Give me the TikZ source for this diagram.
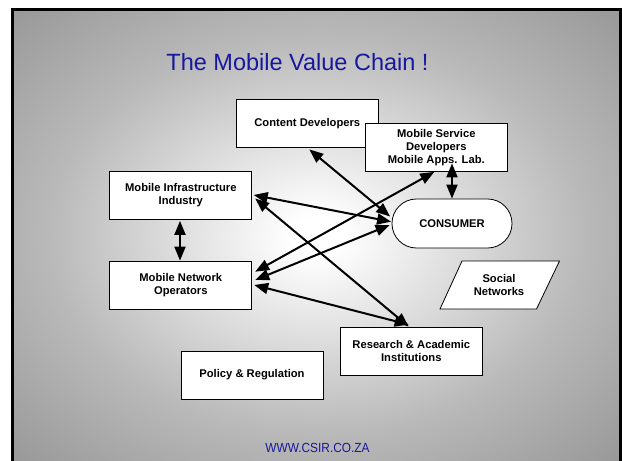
\documentclass[tikz,border=0pt]{standalone}
\usepackage{fontspec}
\setmainfont{Liberation Sans}
\newfontfamily\urlfont[FakeStretch=0.9]{Liberation Sans}
\usetikzlibrary{arrows.meta,calc}
\definecolor{titleblue}{RGB}{24,24,158}
\definecolor{bgA}{RGB}{185,185,185}
\definecolor{bgB}{RGB}{153,153,153}
\pgfdeclareradialshading{slidebg}{\pgfpoint{0bp}{0bp}}{color(0bp)=(white); color(2bp)=(white); color(22bp)=(bgA); color(35bp)=(bgB); color(50bp)=(bgB)}
\tikzset{
  box/.style={draw=black, line width=0.8pt, fill=white, minimum width=142pt, minimum height=48pt, inner sep=0pt, align=center, font=\bfseries\fontsize{11.2}{13}\selectfont},
  pill/.style={box, minimum width=120pt, minimum height=49pt, rounded corners=24.4pt},
  lbl/.style={inner sep=0pt, align=center, font=\bfseries\fontsize{11.2}{13}\selectfont},
  link/.style={line width=2pt, {Triangle[length=14pt,width=11pt]}-{Triangle[length=14pt,width=11pt]}}
}
\begin{document}
\begin{tikzpicture}[x=1pt,y=-1pt]
\useasboundingbox (0,0) rectangle (622,461);
\fill[white] (0,0) rectangle (622,461);
\shade[shading=slidebg] (12,10) rectangle (621,461);
\draw[line width=3pt] (12.5,480) -- (12.5,9.7) -- (620.7,9.7) -- (620.7,480);
% title and footer
\node[anchor=base, inner sep=0pt, text=titleblue, font=\fontsize{23.5}{28}\selectfont] (title) at (297.5,70.7) {The Mobile Value Chain !};
\node[anchor=base, inner sep=0pt, text=titleblue, font=\urlfont\fontsize{13.2}{15}\selectfont] (url) at (317.5,452.3) {WWW.CSIR.CO.ZA};
% boxes
\node[box] (cd) at (307.3,123.5) {Content Developers};
\node[box] (msd) at (436.3,147.5) {Mobile Service\\Developers\\Mobile Apps. Lab.};
\node[box] (mii) at (180.8,195.5) {Mobile Infrastructure\\Industry};
\node[pill] (con) at (452,223.5) {CONSUMER};
\node[box] (mno) at (180.8,285) {Mobile Network\\Operators};
\node[box] (ra) at (411.3,351) {Research \& Academic\\Institutions};
\node[box] (pr) at (252,375) {Policy \& Regulation};
\draw[line width=0.8pt, fill=white] (462,261) -- (559.5,261) -- (536.5,309) -- (440,309) -- cycle;
\node[lbl] (sn) at (499,284.5) {Social\\Networks};
% connectors
\draw[link] ($(cd.south)+(2,1.5)$) -- ($(con.west)+(-1.5,-7)$);
\draw[link] ($(msd.south)+(-2,0)$) -- ($(mno.east)+(3,-13.3)$);
\draw[link] ($(msd.south)+(15.7,-8.5)$) -- (con.north);
\draw[link] ($(mii.east)+(1.5,-0.5)$) -- ($(con.west)+(-0.5,-1.8)$);
\draw[link] ($(mii.east)+(3,3)$) -- ($(ra.north)+(-2.6,0)$);
\draw[link] ($(mii.south)+(-0.8,1)$) -- ($(mno.north)+(-0.8,0)$);
\draw[link] ($(con.west)+(-2,1.5)$) -- ($(mno.east)+(3,-5)$);
\draw[link] ($(mno.east)+(2,0)$) -- ($(ra.north)+(-2.6,-2)$);
\end{tikzpicture}
\end{document}
